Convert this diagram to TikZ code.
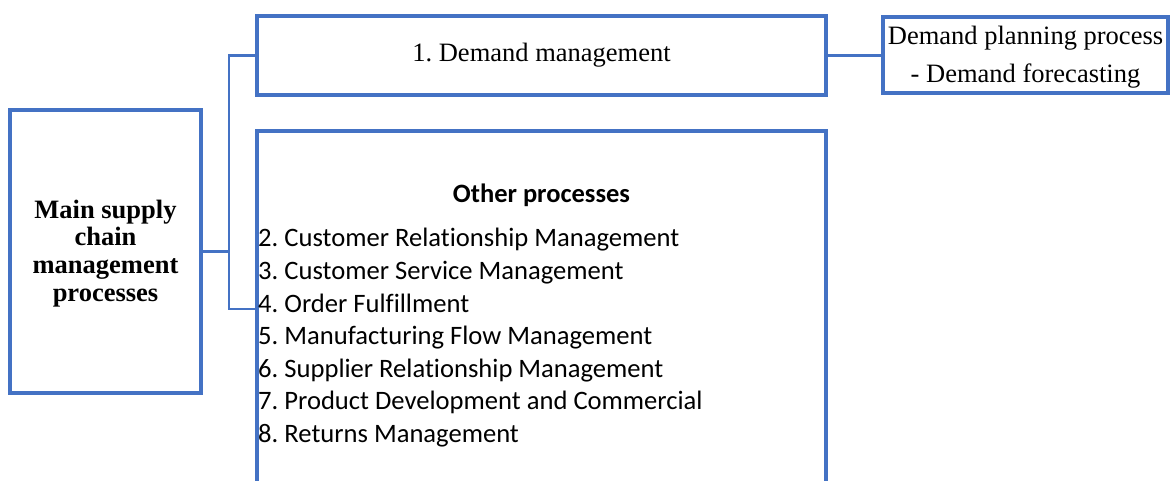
\documentclass[tikz,border=0pt]{standalone}
\usepackage{fontspec}
\setmainfont{Liberation Serif}
\newfontfamily\calfont[Ligatures=NoCommon]{Carlito}
\definecolor{boxblue}{HTML}{4472C4}
\frenchspacing
\begin{document}
\begin{tikzpicture}[x=1pt,y=-1pt,
  box/.style={draw=boxblue, line width=3.5pt, rectangle, inner sep=0pt, align=center},
  conn/.style={draw=boxblue, line width=2.2pt},
  item/.style={anchor=base west, inner sep=0pt, font=\calfont\frenchspacing\fontsize{26.6}{30}\selectfont}]
\useasboundingbox (0,0) rectangle (1173,481);
\node[box, minimum width=191, minimum height=283,
      font=\bfseries\fontsize{26.5}{27.6}\selectfont] (main) at (105.5,251.5)
      {\rule{0pt}{22pt}Main supply\\chain\\management\\processes};
\node[box, minimum width=569, minimum height=79,
      font=\fontsize{26.5}{30}\selectfont] (dm) at (541.5,55.5) {1. Demand management};
\node[box, minimum width=285, minimum height=76,
      font=\fontsize{26.5}{38.5}\selectfont] (plan) at (1025.5,55)
      {\rule{0pt}{23pt}Demand planning process\\- Demand forecasting};
\node[rectangle, minimum width=569, minimum height=356, inner sep=0pt] (other) at (541.5,309) {};
\draw[draw=boxblue, line width=3.5pt] (other.south west) -- (other.north west) -- (other.north east) -- (other.south east);
\node[anchor=base, inner sep=0pt, font=\calfont\bfseries\fontsize{26.5}{30}\selectfont] (title) at (541.5,203) {Other processes};
\node[item] (p2) at (258,247) {2. Customer Relationship Management};
\node[item] (p3) at (258,279.5) {3. Customer Service Management};
\node[item] (p4) at (258,312) {4. Order Fulfillment};
\node[item] (p5) at (258,344.5) {5. Manufacturing Flow Management};
\node[item] (p6) at (258,377) {6. Supplier Relationship Management};
\node[item] (p7) at (258,409.5) {7. Product Development and Commercial};
\node[item] (p8) at (258,442) {8. Returns Management};
\coordinate (j) at (229,251.5);
\draw[conn] (main.east) -- (j);
\draw[conn] (j) |- (dm.west);
\draw[conn] (j) |- (other.west);
\draw[conn] (dm.east) -- (dm.east -| plan.west);
\end{tikzpicture}
\end{document}
